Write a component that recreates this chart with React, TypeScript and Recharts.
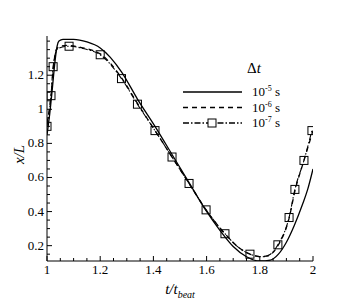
import React from 'react';
import { LineChart, Line, XAxis, YAxis, Legend } from 'recharts';

// ---- data ----
const solidT = [1.0, 1.01, 1.02, 1.03, 1.038, 1.045, 1.06, 1.1, 1.15, 1.2, 1.28, 1.34, 1.406, 1.47, 1.534, 1.598, 1.65, 1.7, 1.75, 1.8, 1.84, 1.87, 1.9, 1.93, 1.96, 1.98, 2.0];
const solidV = [0.85, 0.97, 1.12, 1.28, 1.37, 1.40, 1.41, 1.41, 1.395, 1.36, 1.22, 1.06, 0.9, 0.735, 0.57, 0.405, 0.29, 0.195, 0.135, 0.11, 0.115, 0.15, 0.22, 0.32, 0.44, 0.53, 0.65];

const dashT = [1.0, 1.015, 1.025, 1.035, 1.05, 1.08, 1.12, 1.2, 1.28, 1.34, 1.406, 1.47, 1.534, 1.598, 1.669, 1.72, 1.763, 1.8, 1.83, 1.868, 1.91, 1.932, 1.966, 2.0];
const dashV = [0.92, 1.08, 1.26, 1.35, 1.37, 1.375, 1.365, 1.325, 1.185, 1.035, 0.875, 0.72, 0.565, 0.41, 0.27, 0.19, 0.15, 0.135, 0.14, 0.2, 0.36, 0.52, 0.7, 0.875];

const dotT = [1.0, 1.015, 1.023, 1.04, 1.083, 1.14, 1.2, 1.28, 1.34, 1.406, 1.47, 1.534, 1.598, 1.669, 1.72, 1.763, 1.81, 1.84, 1.868, 1.91, 1.932, 1.966, 1.996];
const dotV = [0.9, 1.08, 1.25, 1.355, 1.37, 1.355, 1.32, 1.18, 1.03, 0.875, 0.72, 0.565, 0.41, 0.27, 0.19, 0.15, 0.135, 0.15, 0.205, 0.365, 0.53, 0.7, 0.875];
const dotMarker = [1, 1, 1, 0, 1, 0, 1, 1, 1, 1, 1, 1, 1, 1, 0, 1, 0, 0, 1, 1, 1, 1, 1];

const xTicks = [1, 1.05, 1.1, 1.15, 1.2, 1.25, 1.3, 1.35, 1.4, 1.45, 1.5, 1.55, 1.6, 1.65, 1.7, 1.75, 1.8, 1.85, 1.9, 1.95, 2];
const yTicks = [0.15, 0.2, 0.25, 0.3, 0.35, 0.4, 0.45, 0.5, 0.55, 0.6, 0.65, 0.7, 0.75, 0.8, 0.85, 0.9, 0.95, 1, 1.05, 1.1, 1.15, 1.2, 1.25, 1.3, 1.35, 1.4];
const yLabeled = [0.2, 0.4, 0.6, 0.8, 1, 1.2];
const legendLabels = ['-5', '-6', '-7'];

const solidData = solidT.map((t, i) => ({ t, v: solidV[i] }));
const dashData = dashT.map((t, i) => ({ t, v: dashV[i] }));
const dotData = dotT.map((t, i) => ({ t, v: dotV[i], m: dotMarker[i] }));

const FONT = "'Liberation Serif', 'DejaVu Serif', serif";

const isMajor = (v: number) => Math.abs(v * 5 - Math.round(v * 5)) < 1e-6;
const fmt = (v: number) => (Math.abs(v - Math.round(v)) < 1e-6 ? String(Math.round(v)) : v.toFixed(1));

const XTick = (props: any) => {
  const { x, y, payload } = props;
  const v = payload.value;
  const major = isMajor(v);
  return (
    <g>
      <line x1={x} y1={y} x2={x} y2={y - (major ? 5 : 3)} stroke="#000" strokeWidth={1} />
      {major && (
        <text x={x} y={y + 13} textAnchor="middle" fontFamily={FONT} fontSize={13} fill="#000">
          {fmt(v)}
        </text>
      )}
    </g>
  );
};

const YTick = (props: any) => {
  const { x, y, payload } = props;
  const v = payload.value;
  const major = yLabeled.some((m) => Math.abs(m - v) < 1e-6);
  return (
    <g>
      <line x1={x} y1={y} x2={x + (major ? 5 : 3)} y2={y} stroke="#000" strokeWidth={1} />
      {major && (
        <text x={x - 3} y={y + 4} textAnchor="end" fontFamily={FONT} fontSize={13} fill="#000">
          {fmt(v)}
        </text>
      )}
    </g>
  );
};

const XLabel = (props: any) => {
  const vb = props.viewBox || {};
  const cx = vb.x + vb.width / 2;
  const y = vb.y + 33;
  return (
    <text x={cx} y={y} textAnchor="middle" fontFamily={FONT} fontSize={15} fontStyle="italic" fill="#000">
      <tspan>t/t</tspan>
      <tspan fontSize={10} dy={4}>beat</tspan>
    </text>
  );
};

const YLabel = (props: any) => {
  const vb = props.viewBox || {};
  const x = 16;
  const y = vb.y + vb.height / 2 + 6;
  return (
    <text x={x} y={y} transform={`rotate(-90 ${x} ${y})`} textAnchor="middle" fontFamily={FONT} fontSize={15} fontStyle="italic" fill="#000">
      x/L
    </text>
  );
};

const SquareDot = (props: any) => {
  const { cx, cy, payload } = props;
  if (!payload || !payload.m || cx == null || cy == null) return <g />;
  return <rect x={cx - 4} y={cy - 4} width={8} height={8} fill="none" stroke="#000" strokeWidth={1} />;
};

const dashes = ['', '5 4', '6 2 1.5 2'];

const LegendBox = () => (
  <svg width={140} height={80} style={{ overflow: 'visible' }}>
    <text x={72} y={18} fontFamily={FONT} fontSize={15} fill="#000">
      <tspan>Δ</tspan>
      <tspan fontStyle="italic">t</tspan>
    </text>
    {legendLabels.map((lab, i) => {
      const yy = 37 + i * 15.5;
      return (
        <g key={lab}>
          <line x1={8} y1={yy} x2={67} y2={yy} stroke="#000" strokeWidth={1.3} strokeDasharray={dashes[i] || undefined} />
          {i === 2 && <rect x={33} y={yy - 4} width={8} height={8} fill="#fff" stroke="#000" strokeWidth={1} />}
          <text x={77} y={yy + 4} fontFamily={FONT} fontSize={13} fill="#000">
            <tspan>10</tspan>
            <tspan fontSize={8} dy={-5}>{lab}</tspan>
            <tspan dy={5}> s</tspan>
          </text>
        </g>
      );
    })}
  </svg>
);

export default function App() {
  return (
    <div style={{ fontFamily: FONT }}>
      <LineChart width={350} height={291} margin={{ top: 28, right: 45, left: 0, bottom: 0 }}>
        <XAxis
          dataKey="t"
          type="number"
          domain={[1, 2]}
          ticks={xTicks}
          interval={0}
          tick={<XTick />}
          tickLine={false}
          tickSize={0}
          tickMargin={0}
          height={38}
          axisLine={{ stroke: '#000', strokeWidth: 1 }}
          allowDataOverflow
          label={<XLabel />}
        />
        <YAxis
          type="number"
          domain={[0.11, 1.43]}
          ticks={yTicks}
          interval={0}
          tick={<YTick />}
          tickLine={false}
          tickSize={0}
          tickMargin={0}
          width={39}
          axisLine={{ stroke: '#000', strokeWidth: 1 }}
          allowDataOverflow
          label={<YLabel />}
        />
        <Legend
          layout="horizontal"
          verticalAlign="middle"
          align="center"
          wrapperStyle={{ position: 'absolute', left: 167, top: 47, width: 140, height: 80 }}
          content={() => <LegendBox />}
        />
        <Line data={solidData} dataKey="v" type="monotone" stroke="#000" strokeWidth={1.3} dot={false} isAnimationActive={false} />
        <Line data={dashData} dataKey="v" type="monotone" stroke="#000" strokeWidth={1.3} strokeDasharray="5 4" dot={false} isAnimationActive={false} />
        <Line data={dotData} dataKey="v" type="monotone" stroke="#000" strokeWidth={1.1} strokeDasharray="6 2 1.5 2" dot={<SquareDot />} isAnimationActive={false} />
      </LineChart>
    </div>
  );
}
